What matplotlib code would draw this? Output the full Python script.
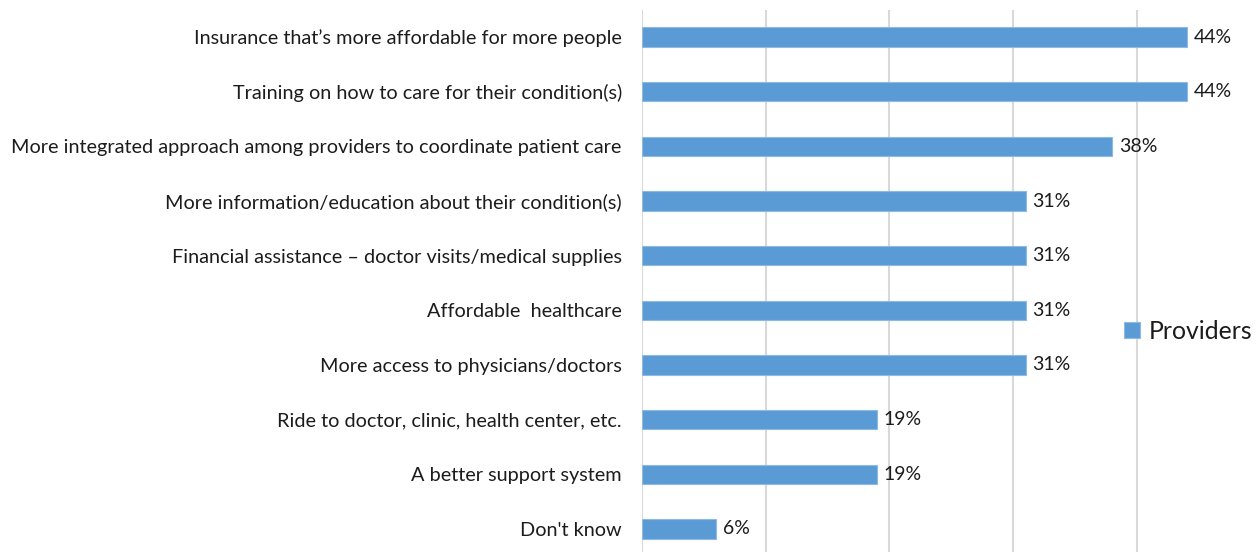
import matplotlib
matplotlib.use('Agg')
import matplotlib.pyplot as plt
from matplotlib.patches import Patch

# survey results - share of providers choosing each option
categories = [
    "Insurance that\u2019s more affordable for more people",
    "Training on how to care for their condition(s)",
    "More integrated approach among providers to coordinate patient care",
    "More information/education about their condition(s)",
    "Financial assistance \u2013 doctor visits/medical supplies",
    "Affordable  healthcare",
    "More access to physicians/doctors",
    "Ride to doctor, clinic, health center, etc.",
    "A better support system",
    "Don't know",
]
providers = [44, 44, 38, 31, 31, 31, 31, 19, 19, 6]
series_name = 'Providers'

bar_color = '#5B9BD5'
grid_color = '#D9D9D9'
text_color = '#1C1C1C'

plt.rcParams['font.family'] = ['Lato', 'DejaVu Sans']

fig = plt.figure(figsize=(12.58, 5.52), dpi=100)
ax = fig.add_axes([0.5103, -0.0078, 0.4919, 0.9902])

ypos = list(range(len(categories)))
vals = [v / 100.0 for v in providers]
ax.barh(ypos, vals, height=0.35, color=bar_color, edgecolor='#8DB9E3',
        linewidth=0.8, zorder=3)

for y, v in zip(ypos, providers):
    ax.text(v / 100.0 + 0.0055, y, str(v) + '%', va='center', ha='left',
            fontsize=14, color=text_color)

ax.set_xlim(0, 0.5)
ax.set_ylim(len(categories) - 0.5, -0.5)
ax.set_xticks([0, 0.1, 0.2, 0.3, 0.4, 0.5])
ax.xaxis.grid(True, color=grid_color, linewidth=1.5, zorder=0)
ax.tick_params(axis='x', length=0, labelbottom=False)
ax.set_yticks(ypos)
ax.set_yticklabels(categories, fontsize=14.3, color=text_color)
ax.tick_params(axis='y', length=0, pad=14.5)
for s in ax.spines.values():
    s.set_visible(False)

handle = Patch(facecolor=bar_color, edgecolor='#8DB9E3', linewidth=0.8)
fig.legend([handle], [series_name], loc='center left',
           bbox_to_anchor=(0.876, 0.40), frameon=False, fontsize=17.8,
           handlelength=0.65, handleheight=0.65, handletextpad=0.35,
           labelcolor=text_color)

fig.savefig('out.png', dpi=100, facecolor='white')
